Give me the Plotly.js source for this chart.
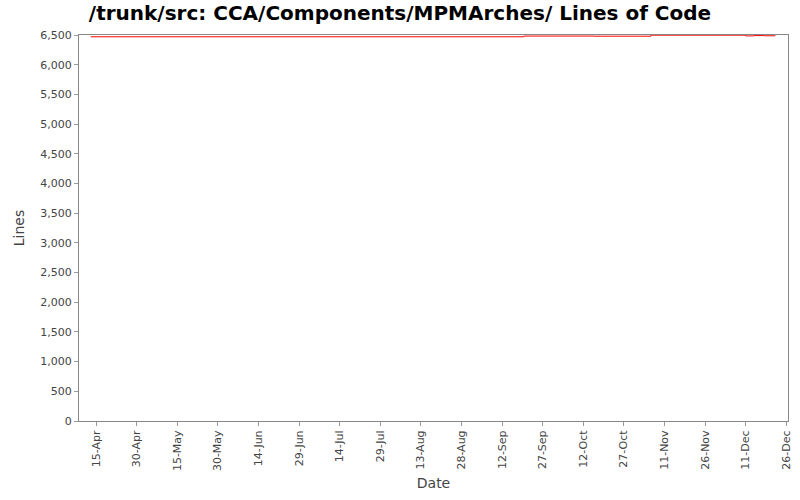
<!DOCTYPE html>
<html>
<head>
<meta charset="utf-8">
<script src="https://cdn.plot.ly/plotly-3.0.1.min.js"></script>
<style>
  body { margin: 0; background: #fff; }
  #chart { width: 800px; height: 500px; }
</style>
</head>
<body>
<div id="chart"></div>
<script>
// step history of lines of code
var dates = ['2008-04-13', '2008-09-20', '2008-10-16', '2008-11-06',
             '2008-12-11', '2008-12-14', '2008-12-18', '2008-12-22'];
var lines = [6470, 6482, 6480, 6497, 6485, 6490, 6487, 6487];

var yTicks = [0, 500, 1000, 1500, 2000, 2500, 3000, 3500, 4000, 4500,
              5000, 5500, 6000, 6500];

var trace = {
  x: dates,
  y: lines,
  type: 'scatter',
  mode: 'lines',
  line: { color: '#ff0000', width: 1, shape: 'hv' },
  hoverinfo: 'none'
};

var layout = {
  width: 800,
  height: 500,
  margin: { l: 79, r: 12, t: 35, b: 79, pad: 0 },
  paper_bgcolor: '#ffffff',
  plot_bgcolor: '#ffffff',
  showlegend: false,
  font: { family: 'DejaVu Sans, sans-serif', color: '#444444', size: 11 },
  title: {
    text: '/trunk/src: CCA/Components/MPMArches/ Lines of Code',
    font: { family: 'DejaVu Sans, sans-serif', size: 20, color: '#000000', weight: 'bold' },
    x: 0.5, xanchor: 'center', y: 0.974, yanchor: 'middle'
  },
  xaxis: {
    type: 'date',
    range: ['2008-04-08 16:00', '2008-12-26 16:00'],
    tick0: '2008-04-15',
    dtick: 15 * 86400000,
    tickformat: '%d-%b',
    tickangle: -90,
    ticks: 'outside',
    ticklen: 4,
    tickcolor: '#999999',
    showgrid: false,
    zeroline: false,
    showline: true,
    linecolor: '#888888',
    mirror: true,
    tickfont: { size: 11, color: '#444444' },
    title: { text: 'Date', font: { size: 14, color: '#444444' }, standoff: 8 }
  },
  yaxis: {
    range: [0, 6500],
    tickvals: yTicks,
    tickformat: ',d',
    ticks: 'outside',
    ticklen: 4,
    tickcolor: '#999999',
    showgrid: false,
    zeroline: false,
    showline: true,
    linecolor: '#888888',
    mirror: true,
    tickfont: { size: 11, color: '#444444' },
    title: { text: 'Lines', font: { size: 14, color: '#444444' }, standoff: 12 }
  }
};

Plotly.newPlot('chart', [trace], layout, { staticPlot: true });
</script>
</body>
</html>
